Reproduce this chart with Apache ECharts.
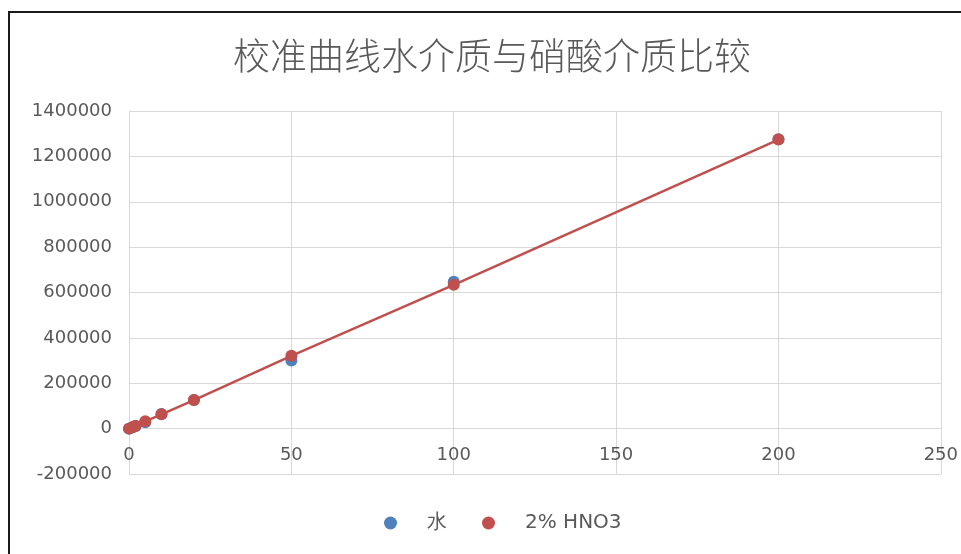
<!DOCTYPE html>
<html>
<head>
<meta charset="utf-8">
<script src="https://cdn.jsdelivr.net/npm/echarts@6/dist/echarts.min.js"></script>
<style>
html, body { margin: 0; padding: 0; background: #fff; }
#chart { width: 961px; height: 554px; }
</style>
</head>
<body>
<div id="chart"></div>
<script>
// Concentrations of the calibration standards
const concentrations = [0, 1, 2, 5, 10, 20, 50, 100, 200];
// Instrument response in water matrix
const waterCounts = [0, 5000, 10000, 28000, 64000, 126000, 300000, 647000, 1276000];
// Instrument response in 2% nitric acid matrix
const acidCounts = [0, 6500, 13000, 32000, 63000, 126000, 321000, 634000, 1274000];
const seriesNames = ['水', '2% HNO3'];
const titleText = '校准曲线水介质与硝酸介质比较';

const toPairs = (xs, ys) => xs.map((x, i) => [x, ys[i]]);

const labelFont = 'DejaVu Sans';
const grey = '#595959';
const gridColor = '#D9D9D9';

const chart = echarts.init(document.getElementById('chart'));
chart.setOption({
  backgroundColor: '#fff',
  animation: false,
  title: {
    text: titleText,
    left: 228,
    top: 32,
    textStyle: {
      fontFamily: 'Noto Sans CJK SC',
      fontWeight: 300,
      fontSize: 37,
      color: grey
    }
  },
  legend: {
    bottom: 16,
    left: 379,
    icon: 'circle',
    itemWidth: 13,
    itemHeight: 13,
    itemGap: 35,
    textStyle: { fontFamily: labelFont, fontSize: 20, color: grey, padding: [0, 0, 0, 25] },
    data: seriesNames
  },
  grid: { left: 129, right: 20, top: 111, bottom: 80 },
  xAxis: {
    type: 'value',
    min: 0, max: 250, interval: 50,
    axisLine: { onZero: true, lineStyle: { color: gridColor } },
    axisTick: { show: false },
    axisLabel: { fontFamily: labelFont, fontSize: 18, color: grey, margin: 18 },
    splitLine: { show: true, lineStyle: { color: gridColor } }
  },
  yAxis: {
    type: 'value',
    min: -200000, max: 1400000, interval: 200000,
    axisLine: { show: true, onZero: false, lineStyle: { color: gridColor } },
    axisTick: { show: false },
    axisLabel: { fontFamily: labelFont, fontSize: 18, color: grey, margin: 17, formatter: v => String(v) },
    splitLine: { show: true, lineStyle: { color: gridColor } }
  },
  graphic: [{
    type: 'polyline',
    shape: { points: [[9, 560], [9, 12], [970, 12]] },
    style: { stroke: '#1a1a1a', lineWidth: 2, fill: null },
    z: 100
  }],
  series: [
    {
      name: seriesNames[0],
      type: 'scatter',
      data: toPairs(concentrations, waterCounts),
      symbol: 'circle',
      symbolSize: 12,
      itemStyle: { color: '#4F81BD', opacity: 1 }
    },
    {
      name: seriesNames[1],
      type: 'line',
      data: toPairs(concentrations, acidCounts),
      symbol: 'circle',
      symbolSize: 12,
      z: 3,
      itemStyle: { color: '#C0504D' },
      lineStyle: { color: '#C0504D', width: 2.5 }
    }
  ]
});

// The horizontal axis crosses the vertical one at y = 0: shift it up from the
// bottom of the plot to where the y scale places zero.
const yZero = chart.convertToPixel({ yAxisIndex: 0 }, 0);
const yBottom = chart.convertToPixel({ yAxisIndex: 0 }, -200000);
chart.setOption({ xAxis: { offset: -(yBottom - yZero) } });
</script>
</body>
</html>
